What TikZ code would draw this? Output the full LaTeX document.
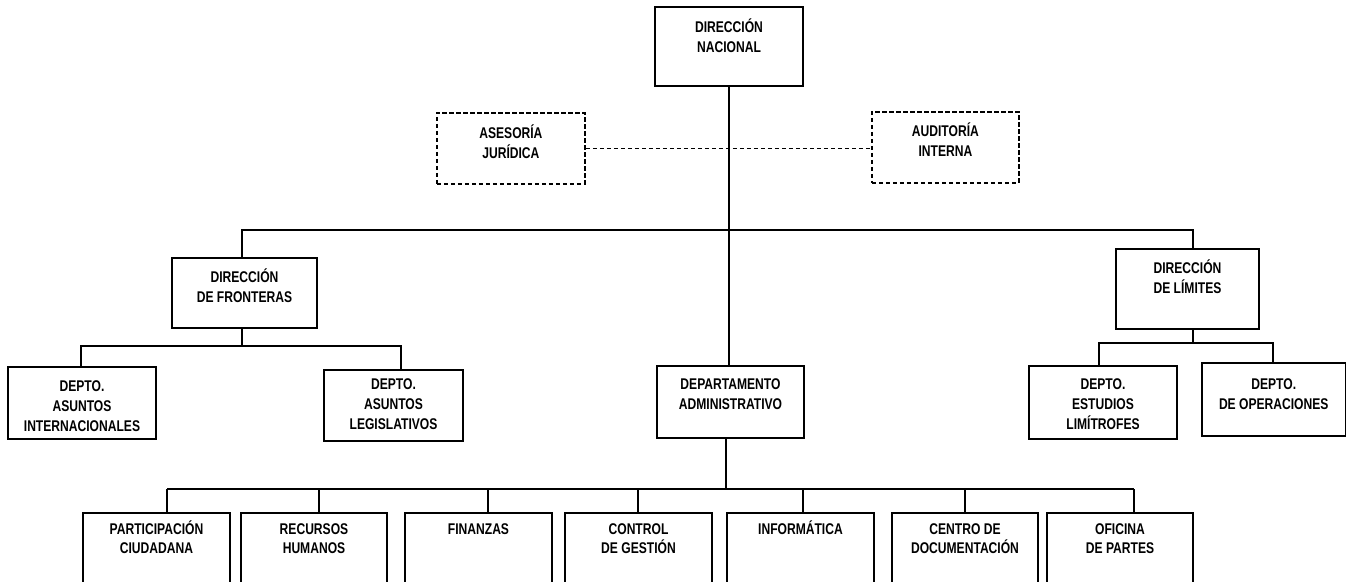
\documentclass[tikz,border=0pt]{standalone}
\usepackage{fontspec}
\newfontfamily\orgfont{Liberation Sans}[FakeStretch=0.78]
\tikzset{
  ubox/.style={draw, line width=2pt, inner sep=0pt, anchor=north west,
    font=\orgfont\bfseries\fontsize{15.5}{19.8}\selectfont},
  dbox/.style={ubox, line width=1.8pt, dash pattern=on 4.5pt off 2.5pt},
  conn/.style={line width=1.7pt},
  dconn/.style={line width=1.8pt, dash pattern=on 4.5pt off 2.5pt},
}
\newcommand\orgtext[4]{\parbox[t][#2pt][t]{#1pt}{\centering\rule{0pt}{#3pt}#4\par}}
\begin{document}
\begin{tikzpicture}[x=1pt,y=-1pt]
\useasboundingbox (0,0) rectangle (1346,581);
\clip (0,0) rectangle (1346,581);
% top
\node[ubox] (nac) at (654,6) {\orgtext{148}{79}{25.5}{DIRECCIÓN\\NACIONAL}};
\node[dbox] (ase) at (436,112) {\orgtext{148}{71}{25.5}{ASESORÍA\\JURÍDICA}};
\node[dbox] (aud) at (871,111) {\orgtext{147}{71}{24.5}{AUDITORÍA\\INTERNA}};
% second level
\node[ubox] (fro) at (171,257) {\orgtext{145}{70}{24.5}{DIRECCIÓN\\DE FRONTERAS}};
\node[ubox] (lim) at (1115,248) {\orgtext{143}{80}{24.5}{DIRECCIÓN\\DE LÍMITES}};
% third level
\node[ubox] (ain) at (7,366) {\orgtext{148}{72}{24.5}{DEPTO.\\ASUNTOS\\INTERNACIONALES}};
\node[ubox] (ale) at (323,369) {\orgtext{139}{71}{19.5}{DEPTO.\\ASUNTOS\\LEGISLATIVOS}};
\node[ubox] (adm) at (656,365) {\orgtext{147}{72}{23.5}{DEPARTAMENTO\\ADMINISTRATIVO}};
\node[ubox] (est) at (1028,365) {\orgtext{148}{73}{23.5}{DEPTO.\\ESTUDIOS\\LIMÍTROFES}};
\node[ubox] (ope) at (1201,362) {\orgtext{143.5}{73}{26.5}{DEPTO.\\DE OPERACIONES}};
% bottom row
\node[ubox] (par) at (82,512) {\orgtext{147}{89}{21}{PARTICIPACIÓN\\CIUDADANA}};
\node[ubox] (rec) at (240,512) {\orgtext{146}{89}{21}{RECURSOS\\HUMANOS}};
\node[ubox] (fin) at (404,512) {\orgtext{147}{89}{21}{FINANZAS}};
\node[ubox] (con) at (564,512) {\orgtext{147}{89}{21}{CONTROL\\DE GESTIÓN}};
\node[ubox] (inf) at (726,512) {\orgtext{147}{89}{21}{INFORMÁTICA}};
\node[ubox] (cen) at (891,512) {\orgtext{146}{89}{21}{CENTRO DE\\DOCUMENTACIÓN}};
\node[ubox] (ofi) at (1046,512) {\orgtext{146}{89}{21}{OFICINA\\DE PARTES}};
% connectors
\coordinate (trunk) at (729,230);
\draw[conn] (nac.south -| trunk) -- (adm.north -| trunk);
\draw[dconn] (ase.east) -- (ase.east -| aud.west);
\coordinate (busL) at (242,230);
\coordinate (busR) at (1193,230);
\draw[conn] (fro.north -| busL) -- (busL) -- (busR) -- (busR |- lim.north);
% fronteras
\coordinate (fb) at (242,346);
\coordinate (fbL) at (81,346);
\coordinate (fbR) at (401,346);
\draw[conn] (fro.south -| fb) -- (fb);
\draw[conn] (fbL |- ain.north) -- (fbL) -- (fbR) -- (fbR |- ale.north);
% limites
\coordinate (lb) at (1193,343);
\coordinate (lbL) at (1099,343);
\coordinate (lbR) at (1273,343);
\draw[conn] (lim.south -| lb) -- (lb);
\draw[conn] (lbL |- est.north) -- (lbL) -- (lbR) -- (lbR |- ope.north);
% administrativo
\coordinate (ab) at (726,489);
\coordinate (abL) at (167,489);
\coordinate (abR) at (1134,489);
\draw[conn] (adm.south -| ab) -- (ab);
\draw[conn] (abL) -- (abR);
\foreach \n/\x in {par/167, rec/319, fin/488, con/638, inf/803, cen/965, ofi/1134}
  \draw[conn] (\x,489) -- (\n.north -| \x,0);
\end{tikzpicture}
\end{document}
